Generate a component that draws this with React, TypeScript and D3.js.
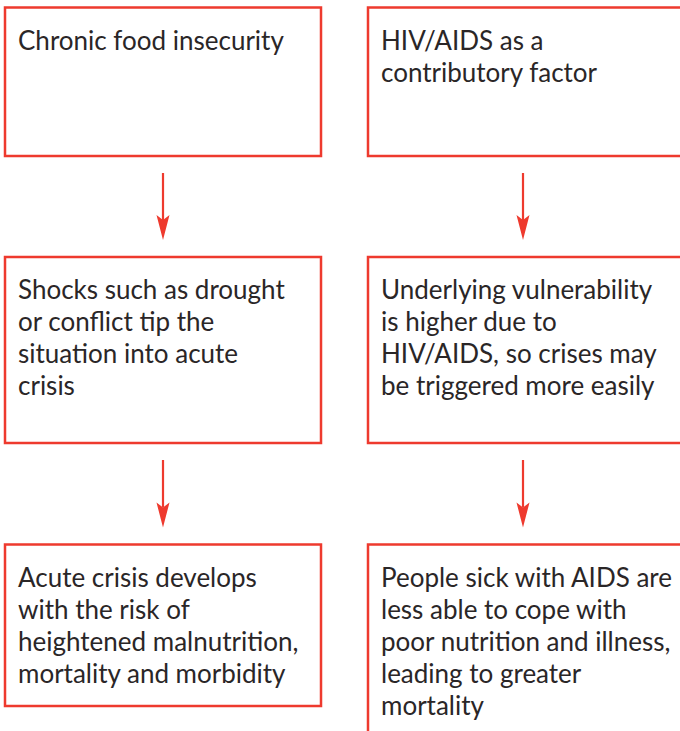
import { useEffect, useRef } from 'react';
import * as d3 from 'd3';

const leftColumn: string[][] = [
  ['Chronic food insecurity'],
  ['Shocks such as drought', 'or conflict tip the', 'situation into acute', 'crisis'],
  ['Acute crisis develops', 'with the risk of', 'heightened malnutrition,', 'mortality and morbidity'],
];

const rightColumn: string[][] = [
  ['HIV/AIDS as a', 'contributory factor'],
  ['Underlying vulnerability', 'is higher due to', 'HIV/AIDS, so crises may', 'be triggered more easily'],
  ['People sick with AIDS are', 'less able to cope with', 'poor nutrition and illness,', 'leading to greater', 'mortality'],
];

const RED = '#ee3a2e';
const TEXT = '#2a2627';

const App = () => {
  const svgRef = useRef<SVGSVGElement>(null);

  useEffect(() => {
    const width = 680;
    const height = 731;

    const svg = d3.select(svgRef.current).attr('width', width).attr('height', height);
    svg.selectAll('*').remove();

    // box geometry per column and row
    const colX = [5, 368];
    const colRight = [321, 700];
    const rowTop = [7.5, 257, 544.5];
    const rowBottom = [[156, 443, 706], [156, 443, 760]];
    const lineH = 32;

    const columns = [leftColumn, rightColumn];

    columns.forEach((col, ci) => {
      col.forEach((lines, ri) => {
        const g = svg.append('g');
        g.append('rect')
          .attr('x', colX[ci])
          .attr('y', rowTop[ri])
          .attr('width', colRight[ci] - colX[ci])
          .attr('height', rowBottom[ci][ri] - rowTop[ri])
          .attr('fill', 'none')
          .attr('stroke', RED)
          .attr('stroke-width', 2.5);

        g.selectAll('text')
          .data(lines)
          .enter()
          .append('text')
          .attr('x', colX[ci] + 13)
          .attr('y', (d, i) => rowTop[ri] + 42 + i * lineH)
          .attr('fill', TEXT)
          .style('font-family', 'Lato, sans-serif')
          .style('font-size', '26px')
          .text((d) => d);

        // arrow down to next box
        if (ri < col.length - 1) {
          const cx = (colX[ci] + (ci === 0 ? colRight[0] : 678)) / 2;
          const y0 = rowBottom[ci][ri] + 17;
          const y1 = rowTop[ri + 1] - 17;
          svg.append('line')
            .attr('x1', cx)
            .attr('x2', cx)
            .attr('y1', y0)
            .attr('y2', y1 - 20)
            .attr('stroke', RED)
            .attr('stroke-width', 2.2);
          svg.append('path')
            .attr('d', `M${cx - 6.5},${y1 - 25} L${cx},${y1 - 20} L${cx + 6.5},${y1 - 25} L${cx},${y1} Z`)
            .attr('fill', RED);
        }
      });
    });
  }, []);

  return (
    <div style={{ position: 'absolute', left: 0, top: 0, background: '#fff' }}>
      <svg ref={svgRef} style={{ display: 'block' }}></svg>
    </div>
  );
};

export default App;
